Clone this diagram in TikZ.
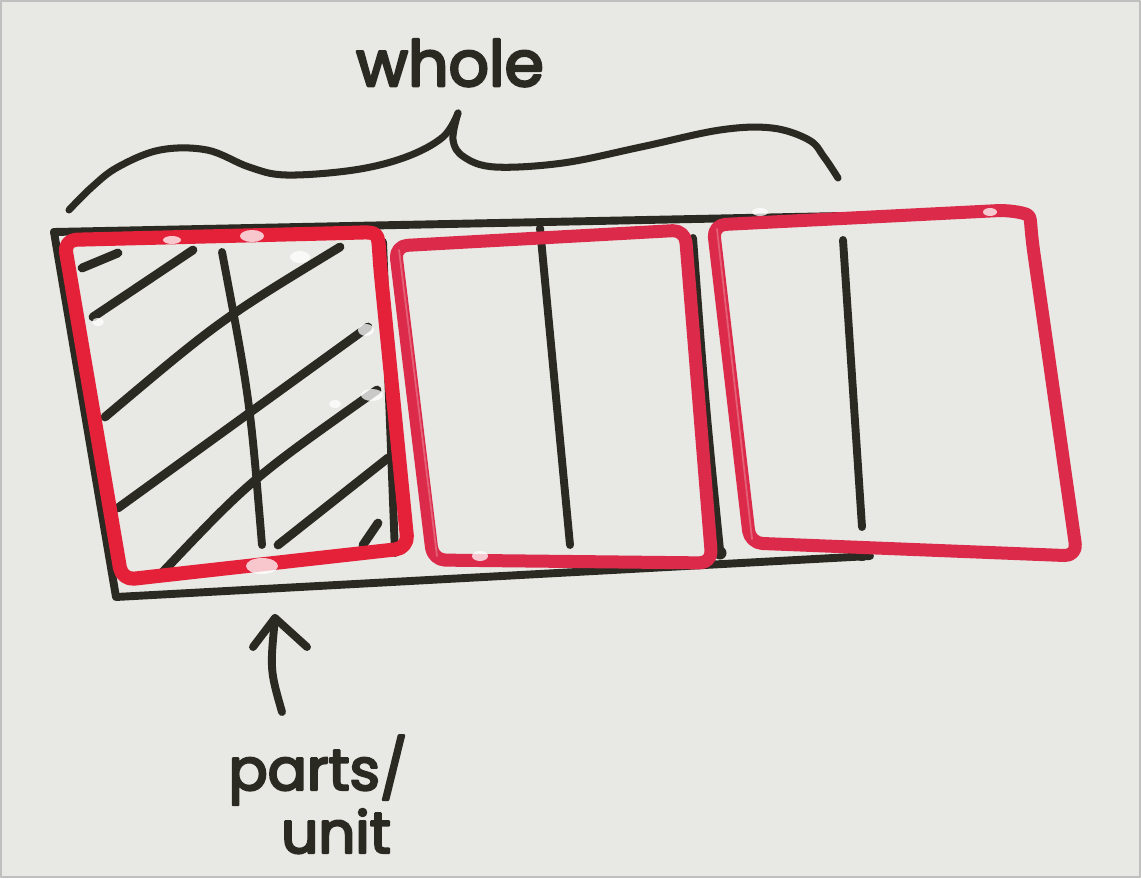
\documentclass[tikz,border=0pt]{standalone}
\usepackage{fontspec}
\setmainfont{Poppins}
\newfontfamily\markerfont{Poppins}[FakeBold=4]
\definecolor{board}{HTML}{E8E8E4}
\definecolor{ink}{HTML}{2B2A22}
\definecolor{markred}{HTML}{E5213A}
\definecolor{markpink}{HTML}{DC2B4A}
\begin{document}
\begin{tikzpicture}[x=0.02cm, y=-0.02cm, line cap=round, line join=round,
  redbox/.style={draw=markred, line width=8pt, rounded corners=7pt},
  pinkbox/.style={draw=markpink, line width=7.4pt, rounded corners=7pt},
  inkline/.style={draw=ink, line width=4.5pt},
  hatchline/.style={draw=ink, line width=5pt},
  bracestroke/.style={draw=ink, line width=4pt},
  scrawl/.style={text=ink, inner sep=0pt}]
% board
\fill[board] (0,0) rectangle (1141,878);
\useasboundingbox (0,0) rectangle (1141,878);
\draw[black!25, line width=0.8pt] (1,1) rectangle (1140,877);

% label over the brace
\node[scrawl, anchor=base, font=\markerfont\fontsize{36}{40}\selectfont] (wholelabel) at (450,86) {whole};

% the brace
\draw[bracestroke] plot[smooth, tension=0.6] coordinates {(69,210) (92,187) (118,167) (160,150) (207,150) (249,167) (286,175) (354,170) (406,157) (443,137) (458,113)};
\draw[bracestroke] plot[smooth, tension=0.6] coordinates {(458,113) (453,140) (464,157) (495,167) (563,163) (641,147) (720,130) (772,128) (809,140) (824,157) (838,178)};

% outline of the whole bar
\draw[inkline] (54,232) -- (842,216);
\draw[inkline] (54,232) -- (116,597) -- (870,556);
% thirds
\draw[inkline] (383,242) -- (395,553);
\draw[inkline] (693,238) .. controls (705,400) .. (720,550);
\fill[ink] (720,553) circle (6.5);
% halves inside each third
\draw[inkline] (222,252) .. controls (250,400) .. (262,545);
\draw[inkline] (540,228) -- (570,545);
\draw[inkline] (843,240) -- (862,527);
\fill[ink] (862,554) circle (7);

% shading of the first third
\draw[hatchline] (82,268) -- (118,253);
\draw[hatchline] (93,317) -- (193,250);
\draw[hatchline] (105,417) .. controls (220,320) .. (340,247);
\draw[hatchline] (118,508) -- (368,327);
\draw[hatchline] (160,575) .. controls (250,480) .. (377,390);
\draw[hatchline] (278,545) -- (388,458);
\draw[hatchline] (363,545) -- (378,523);

% the three units
\draw[redbox] (64,240) -- (345,233) .. controls (378,232) .. (380,265) -- (408,548) -- (122,580) -- cycle;
\draw[pinkbox] (395,246) -- (685,230) -- (712,563) -- (433,560) -- cycle;
\draw[pinkbox] (713,225) -- (1010,210) .. controls (1030,215) .. (1032,240) -- (1077,556) -- (750,543) -- cycle;
% lighter streaks of the marker
\draw[white, opacity=0.25, line width=1pt] (399,250) -- (437,556);
\draw[white, opacity=0.25, line width=1pt] (717,229) -- (752,539);

% erased spots
\foreach \x/\y/\a/\b in {262/566/16/8, 252/236/12/6, 172/240/9/4, 480/556/8/5, 300/257/10/6, 366/330/8/6, 372/395/11/6, 760/212/8/4, 335/404/6/4, 990/212/7/4, 98/322/6/4}
  \fill[white, opacity=0.75] (\x,\y) ellipse ({\a} and {\b});

% label under the first unit with its arrow
\node[scrawl, anchor=base, font=\markerfont\fontsize{33}{36}\selectfont] (partslabel) at (318,790) {parts/};
\node[scrawl, anchor=base, font=\markerfont\fontsize{33}{36}\selectfont] (unitlabel) at (336,853) {unit};
\coordinate (tail) at (282,712);
\coordinate (tip) at (275,618);
\draw[inkline] (tail) .. controls (270,670) .. (tip);
\draw[inkline] (253,647) -- (tip) -- (307,647);
\end{tikzpicture}
\end{document}
